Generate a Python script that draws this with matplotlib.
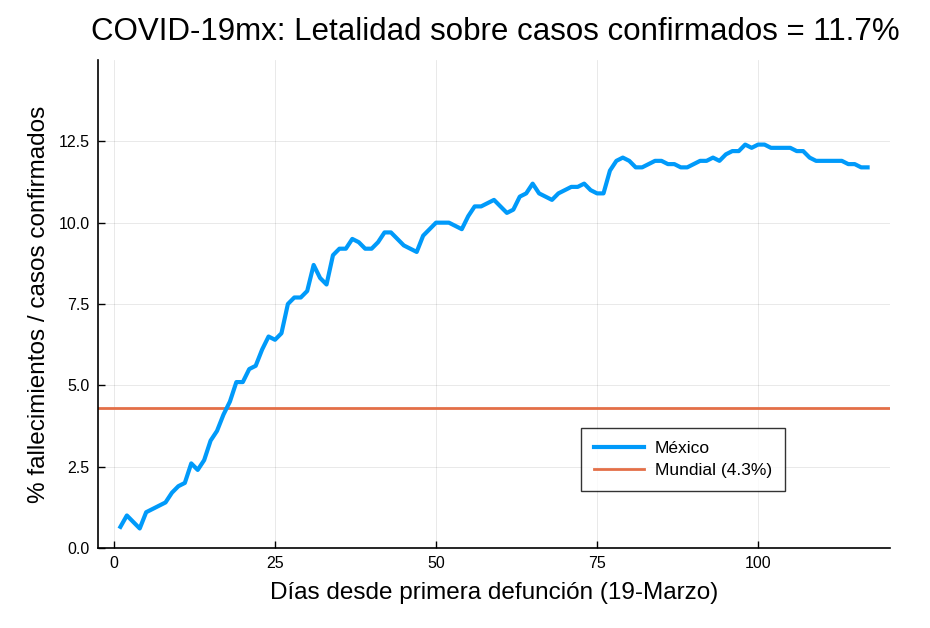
import matplotlib
matplotlib.use("Agg")
import matplotlib.pyplot as plt
import numpy as np

plt.rcParams['font.family'] = ['Liberation Sans', 'DejaVu Sans']

dias = list(range(1, 118))
mexico = [
    0.65, 1.0, 0.8, 0.6, 1.1, 1.2, 1.3, 1.4, 1.7, 1.9,
    2.0, 2.6, 2.4, 2.7, 3.3, 3.6, 4.1, 4.5, 5.1, 5.1,
    5.5, 5.6, 6.1, 6.5, 6.4, 6.6, 7.5, 7.7, 7.7, 7.9,
    8.7, 8.3, 8.1, 9.0, 9.2, 9.2, 9.5, 9.4, 9.2, 9.2,
    9.4, 9.7, 9.7, 9.5, 9.3, 9.2, 9.1, 9.6, 9.8, 10.0,
    10.0, 10.0, 9.9, 9.8, 10.2, 10.5, 10.5, 10.6, 10.7, 10.5,
    10.3, 10.4, 10.8, 10.9, 11.2, 10.9, 10.8, 10.7, 10.9, 11.0,
    11.1, 11.1, 11.2, 11.0, 10.9, 10.9, 11.6, 11.9, 12.0, 11.9,
    11.7, 11.7, 11.8, 11.9, 11.9, 11.8, 11.8, 11.7, 11.7, 11.8,
    11.9, 11.9, 12.0, 11.9, 12.1, 12.2, 12.2, 12.4, 12.3, 12.4,
    12.4, 12.3, 12.3, 12.3, 12.3, 12.2, 12.2, 12.0, 11.9, 11.9,
    11.9, 11.9, 11.9, 11.8, 11.8, 11.7, 11.7,
]
mundial = 4.3
xticks = [0, 25, 50, 75, 100]
yticks = [0.0, 2.5, 5.0, 7.5, 10.0, 12.5]
titulo = "COVID-19mx: Letalidad sobre casos confirmados = 11.7%"

fig = plt.figure(figsize=(9.3, 6.28), dpi=100)
ax = fig.add_axes([98/930, 1 - 548/628, 792/930, 488/628])

ax.plot(dias, mexico, color='#009AFA', lw=3.0, label='México', zorder=3)
ax.axhline(mundial, color='#E36F47', lw=2.0, label='Mundial (4.3%)', zorder=2)

ax.set_xlim(-2.48, 120.48)
ax.set_ylim(0, 15)
ax.set_xticks(xticks)
ax.set_xticklabels([str(t) for t in xticks])
ax.set_yticks(yticks)
ax.set_yticklabels([f"{t:.1f}" for t in yticks])
ax.tick_params(direction='in', length=5, width=1, labelsize=11.5, pad=6)
ax.grid(True, color='black', alpha=0.1, lw=0.6)
ax.set_axisbelow(True)
for s in ['top', 'right']:
    ax.spines[s].set_visible(False)
for s in ['left', 'bottom']:
    ax.spines[s].set_linewidth(1.2)

ax.set_xlabel("Días desde primera defunción (19-Marzo)", fontsize=17.5, labelpad=8)
ax.set_ylabel("% fallecimientos / casos confirmados", fontsize=17.5, labelpad=6)
fig.text(495/930, 1 - 32/628, titulo, fontsize=22.5, ha='center', va='center')

leg = ax.legend(loc='upper left', bbox_to_anchor=(0.61, 0.246),
                fontsize=12.5, frameon=True, fancybox=False,
                handlelength=2.9, borderpad=0.75, labelspacing=0.4,
                borderaxespad=0.0, handletextpad=0.6)
leg.get_frame().set_edgecolor('black')
leg.get_frame().set_linewidth(1.0)

fig.savefig('out.png', dpi=100)
